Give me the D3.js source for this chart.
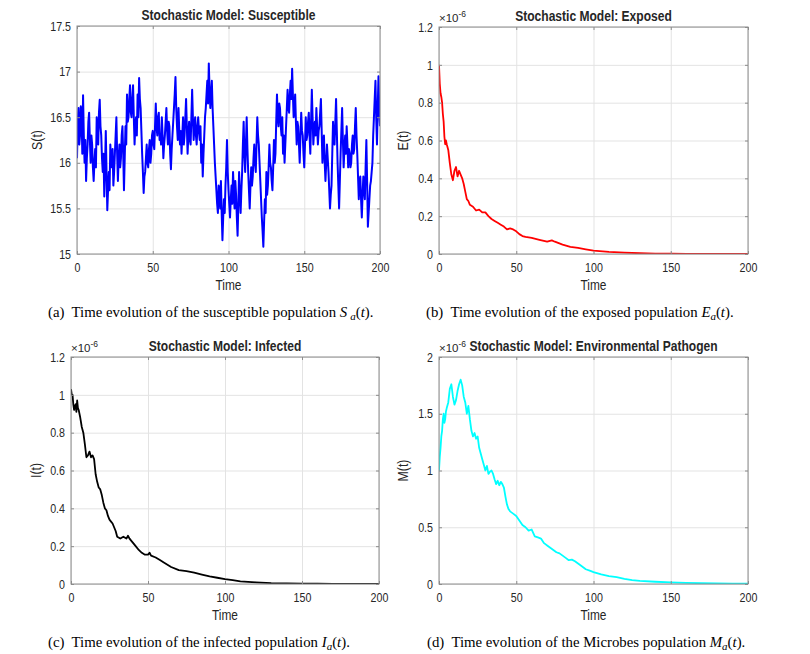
<!DOCTYPE html>
<html>
<head>
<meta charset="utf-8">
<script src="https://cdn.jsdelivr.net/npm/d3@7"></script>
<style>
body { margin: 0; background: #fff; }
svg text { font-family: "Liberation Sans", Arial, sans-serif; }
.tick text { fill: #262626; font-size: 13px; }
.caption { font-family: "Liberation Serif", "Times New Roman", serif; font-size: 14.8px; fill: #000; }
</style>
</head>
<body>
<svg id="chart" width="810" height="654"></svg>
<script>
// Susceptible, one value every half time unit (t = 0, 0.5, ..., 200)
const sValues = [
    16.05, 16.45, 16.6, 16.2, 16.3, 16.62, 16.55, 16.1, 16.74, 16.3,
    16.0, 16.25, 15.8, 16.05, 16.2, 16.45, 16.55, 16.25, 16.0, 16.3,
    16.2, 15.95, 15.8, 16.0, 16.15, 15.95, 16.5, 16.35, 16.2, 16.55,
    16.69, 16.4, 16.3, 16.05, 15.9, 16.1, 15.63, 15.95, 16.35, 15.9,
    15.48, 15.7, 15.9, 15.7, 16.2, 16.0, 15.95, 16.15, 15.75, 15.9,
    16.1, 16.3, 16.5, 16.1, 15.8, 16.05, 16.2, 15.95, 16.05, 16.3,
    16.4, 16.1, 15.7, 16.05, 16.4, 16.2, 16.75, 16.45, 16.5, 16.7,
    16.85, 16.55, 16.5, 16.7, 16.85, 16.5, 16.2, 16.4, 16.5, 16.3,
    16.75, 16.5, 16.93, 16.7, 16.6, 16.35, 16.1, 15.9, 15.67, 15.85,
    15.9, 16.05, 16.2, 16.0, 15.95, 16.15, 16.25, 16.0, 16.1, 16.3,
    16.35, 16.2, 16.15, 16.4, 16.65, 16.4, 16.3, 16.5, 16.55, 16.25,
    16.3, 16.2, 16.5, 16.3, 16.05, 16.2, 16.3, 16.45, 16.6, 16.35,
    16.2, 16.45, 16.4, 16.1, 15.93, 16.15, 16.3, 16.45, 16.6, 16.75,
    16.94, 16.6, 16.4, 16.25, 16.6, 16.35, 16.2, 16.35, 16.1, 16.3,
    16.5, 16.2, 16.3, 16.5, 16.7, 16.4, 16.1, 16.3, 16.45, 16.25,
    16.2, 16.5, 16.8, 16.5, 16.25, 16.4, 16.5, 16.3, 16.2, 16.4,
    16.5, 16.35, 16.25, 16.4, 16.0, 16.2, 15.85, 16.1, 16.3, 16.5,
    16.6, 16.75, 16.9, 16.65, 17.09, 16.8, 16.6, 16.75, 16.9, 16.6,
    16.4, 16.2, 16.0, 15.85, 15.7, 15.55, 15.45, 15.75, 15.7, 15.5,
    15.8, 15.45, 15.15, 15.4, 15.6, 15.45, 15.75, 15.95, 16.25, 15.9,
    15.7, 15.55, 15.4, 15.6, 15.75, 15.55, 15.9, 15.7, 15.5, 15.8,
    15.65, 15.4, 15.2, 15.55, 15.9, 15.65, 15.45, 15.7, 15.9, 16.2,
    16.45, 16.1, 15.9, 16.2, 16.5, 16.15, 15.9, 15.7, 15.5, 15.75,
    15.95, 15.75, 15.85, 16.05, 16.2, 16.0, 15.9, 16.2, 16.5, 16.3,
    16.2, 16.0, 15.8, 15.6, 15.4, 15.25, 15.08, 15.35, 15.6, 15.45,
    15.9, 15.65, 15.75, 15.95, 16.2, 16.0, 15.95, 15.8, 15.7, 15.95,
    16.25, 16.0, 16.1, 16.45, 16.75, 16.5, 16.4, 16.65, 16.6, 16.4,
    16.3, 16.5, 16.1, 16.3, 16.0, 16.2, 16.4, 16.6, 16.8, 16.6,
    16.55, 16.75, 16.9, 16.7, 17.03, 16.75, 16.5, 16.6, 16.75, 16.45,
    16.2, 16.45, 16.4, 16.2, 16.0, 16.3, 16.55, 16.35, 16.3, 16.1,
    15.95, 16.2, 16.5, 16.25, 16.3, 16.45, 16.55, 16.3, 16.1, 16.45,
    16.8, 16.5, 16.2, 16.35, 16.45, 16.3, 16.6, 16.4, 16.2, 16.35,
    16.4, 16.55, 16.7, 16.35, 16.0, 16.2, 16.3, 16.0, 15.8, 16.0,
    16.2, 16.05, 15.9, 15.7, 15.5, 15.65, 15.75, 16.1, 16.45, 16.25,
    16.2, 16.45, 16.7, 16.35, 16.0, 15.75, 15.5, 15.8, 16.1, 16.35,
    16.6, 16.25, 15.95, 16.15, 16.3, 16.1, 16.4, 16.2, 15.95, 16.15,
    16.1, 15.95, 16.0, 16.2, 16.3, 16.1, 16.15, 16.4, 16.6, 16.3,
    16.1, 15.85, 15.6, 15.8, 15.85, 15.6, 15.4, 15.65, 15.85, 15.7,
    15.6, 15.95, 16.25, 15.8, 15.3, 15.45, 15.6, 15.75, 15.8, 15.9,
    16.0, 16.3, 16.5, 16.7, 16.9, 16.5, 16.2, 16.6, 16.95, 16.6,
    16.4
];
const sTimes = sValues.map((v, i) => i / 2);

// Exposed (x 1e-6)
const eTimes = [0, 0.5, 1, 1.5, 2, 2.5, 3, 3.5, 4, 4.5, 5, 6, 7, 8, 9, 10, 11, 12, 13, 14,
    15, 16, 17, 18, 19, 20, 22, 24, 26, 28, 30, 32, 34, 36, 38, 40, 42, 44, 46, 48,
    50, 52, 54, 56, 60, 65, 70, 73, 75, 80, 85, 90, 95, 100, 110, 120, 130, 140, 150,
    160, 170, 180, 190, 200];
const eValues = [1.0, 0.9, 0.85, 0.83, 0.8, 0.74, 0.7, 0.62, 0.58, 0.6, 0.58, 0.55, 0.48, 0.42, 0.39, 0.44, 0.46, 0.41, 0.44, 0.42,
    0.4, 0.37, 0.33, 0.29, 0.28, 0.26, 0.25, 0.23, 0.235, 0.22, 0.22, 0.2, 0.185, 0.175, 0.165, 0.155, 0.145, 0.13, 0.135, 0.13,
    0.12, 0.105, 0.095, 0.09, 0.085, 0.075, 0.065, 0.072, 0.065, 0.05, 0.038, 0.032, 0.025, 0.018, 0.011, 0.007, 0.004, 0.0025, 0.0015,
    0.001, 0.0007, 0.0005, 0.0003, 0.0002];

// Infected (x 1e-6)
const iTimes = [0, 0.5, 1, 1.5, 2, 2.5, 3, 3.5, 4, 4.5, 5, 6, 7, 8, 9, 10, 11, 12, 13, 14,
    15, 16, 17, 18, 19, 20, 21, 22, 23, 24, 25, 26, 27, 28, 29, 30, 32, 34, 36, 37,
    38, 40, 42, 44, 46, 48, 50, 51, 52, 55, 58, 60, 65, 70, 75, 80, 85, 90, 95, 100,
    105, 110, 120, 130, 140, 150, 160, 170, 180, 190, 200];
const iValues = [1.03, 1.0, 1.0, 0.95, 0.92, 0.94, 0.95, 0.91, 0.97, 0.93, 0.92, 0.88, 0.83, 0.8, 0.74, 0.67, 0.68, 0.7, 0.67, 0.68,
    0.66, 0.58, 0.54, 0.51, 0.5, 0.47, 0.43, 0.4, 0.39, 0.36, 0.34, 0.33, 0.32, 0.3, 0.28, 0.25, 0.24, 0.25, 0.24, 0.255,
    0.24, 0.22, 0.2, 0.18, 0.165, 0.155, 0.155, 0.165, 0.15, 0.14, 0.125, 0.115, 0.09, 0.073, 0.068, 0.06, 0.05, 0.04, 0.033, 0.026,
    0.02, 0.014, 0.009, 0.005, 0.003, 0.002, 0.0013, 0.0009, 0.0006, 0.0004, 0.0003];

// Environmental pathogen (x 1e-6)
const mTimes = [0, 0.5, 1, 1.5, 2, 2.5, 3, 3.5, 4, 4.5, 5, 6, 7, 8, 9, 10, 11, 12, 13, 14,
    15, 16, 17, 18, 19, 20, 21, 22, 23, 24, 25, 26, 27, 28, 29, 30, 31, 32, 33, 34,
    35, 36, 37, 38, 39, 40, 41, 42, 43, 44, 45, 46, 48, 50, 52, 54, 56, 58, 60, 62,
    64, 66, 68, 70, 72, 74, 76, 78, 80, 82, 84, 86, 88, 90, 92, 95, 98, 100, 105, 110,
    115, 120, 125, 130, 140, 150, 160, 170, 180, 190, 200];
const mValues = [1.0, 1.12, 1.2, 1.3, 1.35, 1.45, 1.5, 1.42, 1.45, 1.52, 1.55, 1.6, 1.72, 1.76, 1.65, 1.58, 1.62, 1.7, 1.76, 1.8,
    1.75, 1.65, 1.6, 1.5, 1.57, 1.45, 1.35, 1.3, 1.33, 1.28, 1.3, 1.2, 1.15, 1.1, 1.05, 1.0, 1.04, 0.97, 0.99, 1.0,
    0.97, 0.92, 0.88, 0.91, 0.87, 0.9, 0.88, 0.85, 0.77, 0.7, 0.66, 0.64, 0.62, 0.6, 0.56, 0.52, 0.5, 0.47, 0.48, 0.42,
    0.41, 0.4, 0.36, 0.34, 0.32, 0.3, 0.28, 0.27, 0.25, 0.23, 0.21, 0.215, 0.2, 0.18, 0.16, 0.13, 0.115, 0.105, 0.085, 0.07,
    0.06, 0.045, 0.035, 0.028, 0.02, 0.014, 0.01, 0.007, 0.005, 0.003, 0.002];

const timeTicks = [0, 50, 100, 150, 200];
const sTicks = [15, 15.5, 16, 16.5, 17, 17.5];
const eTicks = [0, 0.2, 0.4, 0.6, 0.8, 1, 1.2];
const mTicks = [0, 0.5, 1, 1.5, 2];

const svg = d3.select('#chart');

// squeeze text horizontally, the reference uses a narrow Helvetica
function condense(sel, factor) {
    sel.each(function () {
        const len = this.getComputedTextLength();
        if (len > 0) {
            d3.select(this).attr('textLength', len * factor).attr('lengthAdjust', 'spacingAndGlyphs');
        }
    });
}

function drawPanel(p) {
    const x = d3.scaleLinear().domain([0, 200]).range([p.left, p.right]);
    const y = d3.scaleLinear().domain([p.yTicks[0], p.yTicks[p.yTicks.length - 1]]).range([p.bottom, p.top]);
    const w = p.right - p.left;
    const h = p.bottom - p.top;
    const g = svg.append('g');

    // gridlines
    g.append('g')
        .attr('transform', `translate(0,${p.bottom})`)
        .call(d3.axisBottom(x).tickValues(timeTicks).tickSize(-h).tickFormat(''))
        .call(s => s.select('.domain').remove())
        .selectAll('line').attr('stroke', '#e3e3e3');
    g.append('g')
        .attr('transform', `translate(${p.left},0)`)
        .call(d3.axisLeft(y).tickValues(p.yTicks).tickSize(-w).tickFormat(''))
        .call(s => s.select('.domain').remove())
        .selectAll('line').attr('stroke', '#e3e3e3');

    // data line
    const clipId = 'clip-' + p.id;
    g.append('clipPath').attr('id', clipId)
        .append('rect').attr('x', p.left).attr('y', p.top - 2).attr('width', w).attr('height', h + 2);
    g.append('path')
        .datum(p.times.map((t, i) => [t, p.values[i]]))
        .attr('clip-path', `url(#${clipId})`)
        .attr('fill', 'none')
        .attr('stroke', p.color)
        .attr('stroke-width', p.lineWidth)
        .attr('stroke-linejoin', 'round')
        .attr('d', d3.line().x(d => x(d[0])).y(d => y(d[1])));

    // box
    g.append('rect')
        .attr('x', p.left).attr('y', p.top).attr('width', w).attr('height', h)
        .attr('fill', 'none').attr('stroke', '#8c8c8c').attr('stroke-width', 1);

    const styleAxis = s => {
        s.select('.domain').remove();
        s.selectAll('line').attr('stroke', '#8c8c8c');
    };

    // axes with inward ticks
    g.append('g')
        .attr('transform', `translate(0,${p.bottom})`)
        .call(d3.axisBottom(x).tickValues(timeTicks).tickSizeInner(-3).tickSizeOuter(0).tickPadding(9))
        .call(styleAxis)
        .call(s => condense(s.selectAll('text'), 0.82));
    g.append('g')
        .attr('transform', `translate(0,${p.top})`)
        .call(d3.axisTop(x).tickValues(timeTicks).tickSizeInner(-3).tickSizeOuter(0).tickFormat(''))
        .call(styleAxis);
    g.append('g')
        .attr('transform', `translate(${p.left},0)`)
        .call(d3.axisLeft(y).tickValues(p.yTicks).tickSizeInner(-3).tickSizeOuter(0).tickPadding(6).tickFormat(d3.format('~g')))
        .call(styleAxis)
        .call(s => condense(s.selectAll('text'), 0.82));
    g.append('g')
        .attr('transform', `translate(${p.right},0)`)
        .call(d3.axisRight(y).tickValues(p.yTicks).tickSizeInner(-3).tickSizeOuter(0).tickFormat(''))
        .call(styleAxis);

    // title
    g.append('text')
        .attr('x', (p.left + p.right) / 2).attr('y', p.top - 6)
        .attr('text-anchor', 'middle')
        .attr('font-size', 14).attr('font-weight', 'bold').attr('fill', '#262626')
        .text(p.title)
        .call(s => condense(s, 0.86));

    // x label
    g.append('text')
        .attr('x', (p.left + p.right) / 2).attr('y', p.bottom + 36)
        .attr('text-anchor', 'middle')
        .attr('font-size', 14.5).attr('fill', '#262626')
        .text('Time')
        .call(s => condense(s, 0.82));

    // y label
    g.append('text')
        .attr('transform', `translate(${p.yLabelX},${(p.top + p.bottom) / 2}) rotate(-90)`)
        .attr('text-anchor', 'middle')
        .attr('font-size', 14.5).attr('fill', '#262626')
        .text(p.yLabel)
        .call(s => condense(s, 0.85));

    // exponent
    if (p.exponent) {
        const ex = g.append('text')
            .attr('x', p.left).attr('y', p.top - 5)
            .attr('font-size', 11.5).attr('fill', '#262626');
        ex.append('tspan').text('×10');
        ex.append('tspan').attr('dy', -5).attr('font-size', 8.5).text('-6');
    }

    // caption
    const cap = g.append('text')
        .attr('class', 'caption')
        .attr('x', p.captionX).attr('y', p.captionY);
    cap.append('tspan').text(p.caption[0]);
    cap.append('tspan').attr('font-style', 'italic').text(p.caption[1]);
    cap.append('tspan').attr('font-style', 'italic').attr('font-size', 11).attr('dx', p.subGap).attr('dy', 3).text('a');
    cap.append('tspan').attr('dy', -3).text('(');
    cap.append('tspan').attr('font-style', 'italic').text('t');
    cap.append('tspan').text(').');
}

drawPanel({
    id: 'a', left: 77, right: 380, top: 26, bottom: 254,
    times: sTimes, values: sValues, yTicks: sTicks,
    color: '#0000ff', lineWidth: 2,
    title: 'Stochastic Model: Susceptible', yLabel: 'S(t)', yLabelX: 42, exponent: false,
    caption: ['(a)\u00a0 Time evolution of the susceptible population ', 'S'], subGap: 3,
    captionX: 48, captionY: 317
});
drawPanel({
    id: 'b', left: 439, right: 748, top: 27, bottom: 254,
    times: eTimes, values: eValues, yTicks: eTicks,
    color: '#ff0000', lineWidth: 1.8,
    title: 'Stochastic Model: Exposed', yLabel: 'E(t)', yLabelX: 408, exponent: true,
    caption: ['(b)\u00a0 Time evolution of the exposed population ', 'E'], subGap: 0,
    captionX: 426, captionY: 317
});
drawPanel({
    id: 'c', left: 71, right: 379, top: 357, bottom: 584,
    times: iTimes, values: iValues, yTicks: eTicks,
    color: '#000000', lineWidth: 1.8,
    title: 'Stochastic Model: Infected', yLabel: 'I(t)', yLabelX: 41, exponent: true,
    caption: ['(c)\u00a0 Time evolution of the infected population ', 'I'], subGap: 0,
    captionX: 48, captionY: 647
});
drawPanel({
    id: 'd', left: 439, right: 748, top: 357, bottom: 584,
    times: mTimes, values: mValues, yTicks: mTicks,
    color: '#00ffff', lineWidth: 1.8,
    title: 'Stochastic Model: Environmental Pathogen', yLabel: 'M(t)', yLabelX: 408, exponent: true,
    caption: ['(d)\u00a0 Time evolution of the Microbes population ', 'M'], subGap: 0,
    captionX: 427, captionY: 647
});
</script>
</body>
</html>
